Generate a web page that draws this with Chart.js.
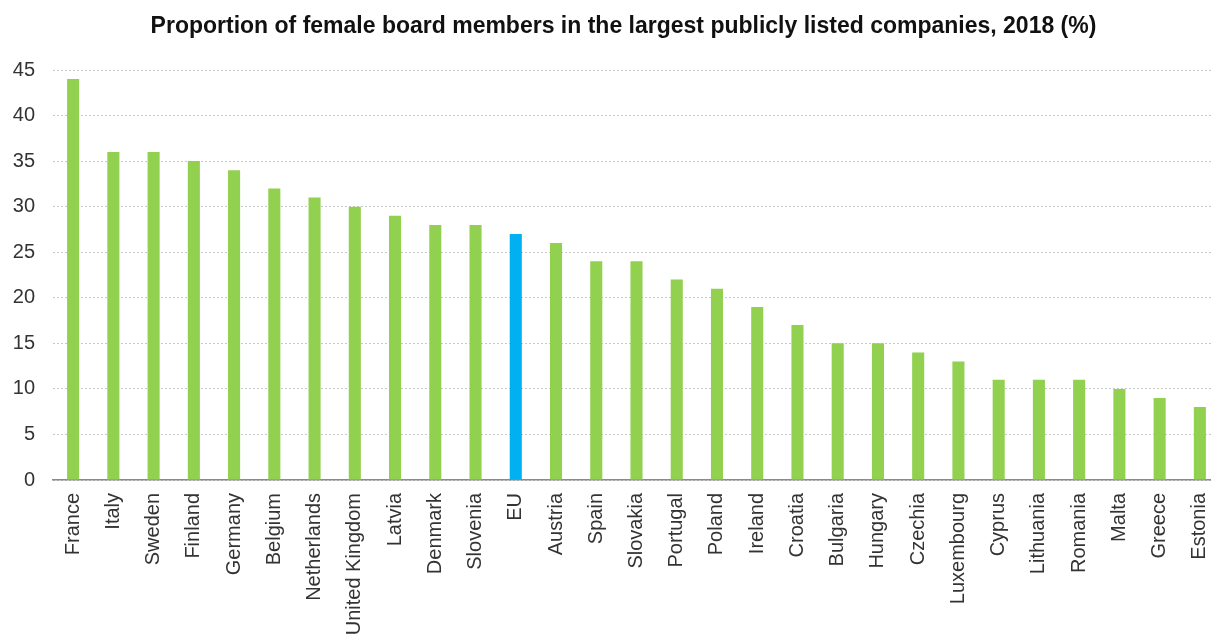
<!DOCTYPE html>
<html>
<head>
<meta charset="utf-8">
<script src="https://cdn.jsdelivr.net/npm/chart.js@4/dist/chart.umd.min.js"></script>
<style>
  html, body { margin: 0; padding: 0; background: #ffffff; overflow: hidden; }
  #wrap { width: 1246px; height: 641px; }
</style>
</head>
<body>
<div id="wrap"><canvas id="c" width="1246" height="641"></canvas></div>
<script>
const countries = ["France","Italy","Sweden","Finland","Germany","Belgium","Netherlands","United Kingdom","Latvia","Denmark","Slovenia","EU","Austria","Spain","Slovakia","Portugal","Poland","Ireland","Croatia","Bulgaria","Hungary","Czechia","Luxembourg","Cyprus","Lithuania","Romania","Malta","Greece","Estonia"];
const shares = [44,36,36,35,34,32,31,30,29,28,28,27,26,24,24,22,21,19,17,15,15,14,13,11,11,11,10,9,8];
const highlight = "EU";
const yMin = 0, yMax = 45, yStep = 5;
const titleText = "Proportion of female board members in the largest publicly listed companies, 2018 (%)";

const GREEN = "#92D050";
const BLUE = "#00B0F0";
const FONT = "'Liberation Sans', Arial, Helvetica, sans-serif";

const colors = countries.map(c => c === highlight ? BLUE : GREEN);

const titleShift = {
  id: "titleShift",
  afterLayout(chart) {
    const t = chart.titleBlock;
    if (t) { t.left = 27; }
  }
};

new Chart(document.getElementById("c"), {
  type: "bar",
  data: {
    labels: countries,
    datasets: [{
      data: shares,
      backgroundColor: colors,
      borderWidth: 0,
      barPercentage: 0.3,
      categoryPercentage: 1.0
    }]
  },
  plugins: [titleShift],
  options: {
    responsive: false,
    animation: false,
    layout: { padding: { left: 0, right: 26, top: 0, bottom: 0 } },
    plugins: {
      legend: { display: false },
      tooltip: { enabled: false },
      title: {
        display: true,
        text: titleText,
        color: "#111111",
        font: { family: FONT, size: 23, weight: "bold", lineHeight: 1.2 },
        padding: { top: 13, bottom: 29.4 }
      }
    },
    scales: {
      x: {
        grid: { display: false, drawTicks: false },
        border: { display: true, color: "#8a8a8a", width: 1.5 },
        ticks: {
          color: "#333333",
          font: { family: FONT, size: 20 },
          minRotation: 90,
          maxRotation: 90,
          autoSkip: false,
          padding: 13
        },
        afterFit: s => { s.height = 161; }
      },
      y: {
        min: yMin,
        max: yMax,
        grid: { color: "#c8c8c8", lineWidth: 1, drawTicks: false },
        border: { display: false, dash: [2, 2] },
        ticks: {
          stepSize: yStep,
          color: "#333333",
          font: { family: FONT, size: 20 },
          padding: 18
        },
        afterFit: s => { s.width = 53; }
      }
    }
  }
});
</script>
</body>
</html>
